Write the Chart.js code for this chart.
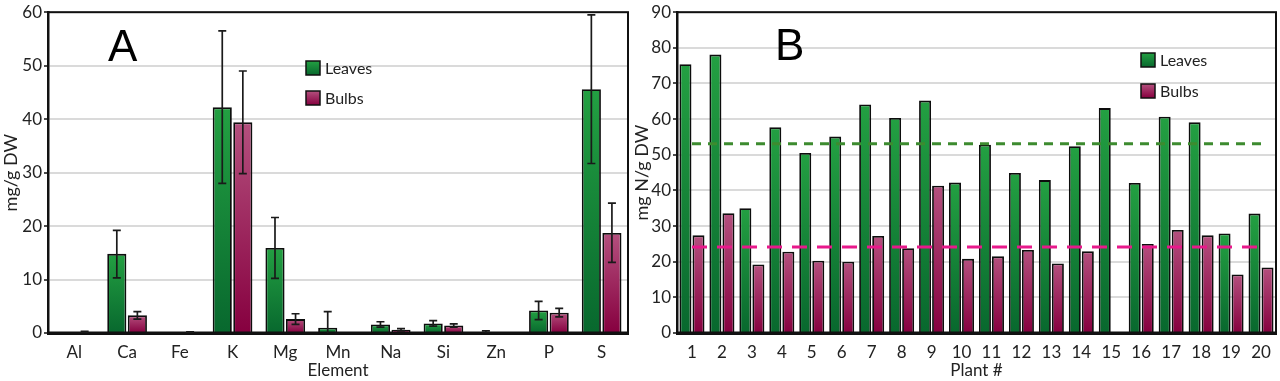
<!DOCTYPE html>
<html>
<head>
<meta charset="utf-8">
<script src="https://cdn.jsdelivr.net/npm/chart.js@4/dist/chart.umd.min.js"></script>
<style>
  html,body{margin:0;padding:0;background:#fff;width:1280px;height:381px;overflow:hidden;}
  .pane{position:absolute;top:0;height:381px;}
</style>
</head>
<body>
<div class="pane" style="left:0;width:640px"><canvas id="ca" width="640" height="381"></canvas></div>
<div class="pane" style="left:628px;width:652px"><canvas id="cb" width="652" height="381"></canvas></div>
<script>
// ---------- Panel A data ----------
const elements = ['Al','Ca','Fe','K','Mg','Mn','Na','Si','Zn','P','S'];
const leavesA     = [0.05, 14.8, 0.05, 42.2, 15.9, 1.0, 1.6, 1.8, 0.1, 4.2, 45.6];
const leavesALow  = [0.05, 10.3, 0.05, 28.0, 10.2, -2.0, 1.1, 1.3, 0.0, 2.5, 31.7];
const leavesAHigh = [0.05, 19.2, 0.05, 56.5, 21.6, 4.0, 2.1, 2.3, 0.4, 5.9, 59.5];
const bulbsA      = [0.2, 3.3, 0.15, 39.4, 2.6, 0.05, 0.6, 1.4, 0.05, 3.8, 18.7];
const bulbsALow   = [0.1, 2.6, 0.1, 29.8, 1.6, 0.05, 0.4, 1.1, 0.05, 3.0, 13.2];
const bulbsAHigh  = [0.3, 4.0, 0.2, 49.0, 3.6, 0.05, 0.8, 1.7, 0.05, 4.6, 24.3];
const yTicksA = [0,10,20,30,40,50,60];

// ---------- Panel B data ----------
const plants = ['1','2','3','4','5','6','7','8','9','10','11','12','13','14','15','16','17','18','19','20'];
const leavesB = [75.4, 78.1, 35.0, 57.7, 50.5, 55.1, 64.1, 60.3, 65.2, 42.2, 52.8, 44.9, 42.9, 52.4, 63.1, 42.1, 60.7, 59.1, 27.9, 33.5];
const bulbsB  = [27.4, 33.6, 19.2, 22.8, 20.3, 20.0, 27.2, 23.8, 41.3, 20.8, 21.5, 23.3, 19.5, 22.9, 0, 25.0, 28.9, 27.4, 16.4, 18.4];
const meanLeavesB = 53.1;
const meanBulbsB = 24.1;
const yTicksB = [0,10,20,30,40,50,60,70,80,90];

const FONT = 'Lato, "Open Sans", sans-serif';
const FS = 17;
const TXT = '#222';
const GREEN_TOP = '#23a042', GREEN_BOT = '#08682e';
const PINK_TOP = '#b4507e', PINK_BOT = '#86003f';

function barGrad(top, bot){
  return function(ctx){
    const chart = ctx.chart;
    if (!chart.chartArea || ctx.type !== 'data') return bot;
    const ys = chart.scales.y;
    const v = ctx.raw;
    const y0 = ys.getPixelForValue(v), y1 = ys.getPixelForValue(0);
    if (!(y1 - y0 > 1)) return bot;
    const g = chart.ctx.createLinearGradient(0, y0, 0, y1);
    g.addColorStop(0, top); g.addColorStop(1, bot);
    return g;
  };
}

const framePlugin = {
  id: 'frame',
  afterDatasetsDraw(chart){
    const {ctx, chartArea:a} = chart;
    ctx.save();
    ctx.strokeStyle = '#111';
    ctx.lineWidth = 2;
    ctx.strokeRect(a.left, a.top, a.right - a.left, a.bottom - a.top);
    ctx.lineWidth = 3;
    ctx.beginPath(); ctx.moveTo(a.left-1, a.bottom); ctx.lineTo(a.right+1, a.bottom); ctx.stroke();
    ctx.restore();
  }
};

const errorPlugin = {
  id: 'errbars',
  afterDatasetsDraw(chart){
    const {ctx, chartArea:a} = chart;
    const ys = chart.scales.y;
    ctx.save();
    ctx.beginPath(); ctx.rect(a.left, a.top - 2, a.right - a.left, a.bottom - a.top + 2); ctx.clip();
    ctx.strokeStyle = '#1a1a1a';
    ctx.lineWidth = 1.7;
    chart.data.datasets.forEach((ds, di) => {
      if (!ds.errLow) return;
      const meta = chart.getDatasetMeta(di);
      meta.data.forEach((bar, i) => {
        const lo = ds.errLow[i], hi = ds.errHigh[i];
        if (hi - lo <= 0) return;
        const x = bar.x;
        const yl = ys.getPixelForValue(lo), yh = ys.getPixelForValue(hi);
        ctx.beginPath();
        ctx.moveTo(x, yl); ctx.lineTo(x, yh);
        ctx.moveTo(x - 4, yh); ctx.lineTo(x + 4, yh);
        if (lo >= 0) { ctx.moveTo(x - 4, yl); ctx.lineTo(x + 4, yl); }
        ctx.stroke();
      });
    });
    ctx.restore();
  }
};

const legendLabelPlugin = {
  id: 'legendLabel',
  afterDraw(chart, args, opts){
    const ctx = chart.ctx;
    ctx.save();
    ctx.fillStyle = '#000';
    ctx.font = '44px "Liberation Sans", Arial, sans-serif';
    ctx.textBaseline = 'alphabetic';
    ctx.textAlign = 'left';
    ctx.fillText(opts.letter, opts.letterX, opts.letterY);
    const bars = chart.data.datasets.filter(d => d.type !== 'line');
    bars.forEach((ds, k) => {
      const cy = opts.legY[k];
      const x = opts.legX;
      const g = ctx.createLinearGradient(0, cy - 7, 0, cy + 7);
      g.addColorStop(0, ds.legendTop); g.addColorStop(1, ds.legendBot);
      ctx.fillStyle = g;
      ctx.fillRect(x, cy - 7, 14, 14);
      ctx.strokeStyle = '#111'; ctx.lineWidth = 1.5;
      ctx.strokeRect(x, cy - 7, 14, 14);
      ctx.fillStyle = TXT;
      ctx.font = '16px ' + FONT;
      ctx.textBaseline = 'middle';
      ctx.fillText(ds.label, x + 19, cy + 1);
    });
    ctx.restore();
  }
};

function yScale(max, ticks, title, width, titlePad){
  return {
    min: 0, max: max,
    afterBuildTicks(s){ s.ticks = ticks.map(v => ({value: v})); },
    afterFit(s){ s.width = width; },
    ticks: { font: {size: FS, family: FONT}, color: TXT, padding: 2 },
    grid: { color: '#dadada', lineWidth: 2, drawTicks: true, tickLength: 4, tickColor: '#111', tickWidth: 1.5 },
    border: { display: true, color: '#111', width: 2.5 },
    title: { display: true, text: title, font: {size: 18, family: FONT}, color: TXT, padding: titlePad }
  };
}
function xScale(title){
  return {
    afterFit(s){ s.height = 48; },
    ticks: { font: {size: FS, family: FONT}, color: TXT, padding: 9, maxRotation: 0, autoSkip: false },
    grid: { display: false, drawTicks: false },
    border: { display: true, color: '#111', width: 3 },
    title: { display: true, text: title, font: {size: FS, family: FONT}, color: TXT, padding: {top: 0, bottom: 0} }
  };
}

const BW = 1.8;
new Chart(document.getElementById('ca'), {
  type: 'bar',
  data: {
    labels: elements,
    datasets: [
      { label: 'Leaves', data: leavesA, errLow: leavesALow, errHigh: leavesAHigh,
        backgroundColor: barGrad(GREEN_TOP, GREEN_BOT), borderColor: '#0d0d0d', borderWidth: BW,
        legendTop: GREEN_TOP, legendBot: GREEN_BOT, categoryPercentage: 0.78, barPercentage: 0.93 },
      { label: 'Bulbs', data: bulbsA, errLow: bulbsALow, errHigh: bulbsAHigh,
        backgroundColor: barGrad(PINK_TOP, PINK_BOT), borderColor: '#0d0d0d', borderWidth: BW,
        legendTop: PINK_TOP, legendBot: PINK_BOT, categoryPercentage: 0.78, barPercentage: 0.93 }
    ]
  },
  options: {
    responsive: false, animation: false,
    layout: { padding: { top: 6, right: 12, left: 0, bottom: 0 } },
    scales: { x: xScale('Element'), y: yScale(60, yTicksA, 'mg/g DW', 48, {top: 0, bottom: 0}) },
    plugins: {
      legend: { display: false }, tooltip: { enabled: false },
      legendLabel: { letter: 'A', letterX: 108, letterY: 61, legX: 306, legY: [68, 98] }
    }
  },
  plugins: [framePlugin, errorPlugin, legendLabelPlugin]
});

new Chart(document.getElementById('cb'), {
  type: 'bar',
  data: {
    labels: plants,
    datasets: [
      { type: 'line', label: 'meanLeaves', data: [{x: plants[0], y: meanLeavesB}, {x: plants[plants.length-1], y: meanLeavesB}],
        borderColor: '#3d8b2f', borderWidth: 3, borderDash: [9, 7], pointRadius: 0, fill: false, order: 0 },
      { type: 'line', label: 'meanBulbs', data: [{x: plants[0], y: meanBulbsB}, {x: plants[plants.length-1], y: meanBulbsB}],
        borderColor: '#e8198b', borderWidth: 3, borderDash: [15, 10], pointRadius: 0, fill: false, order: 0 },
      { label: 'Leaves', data: leavesB,
        backgroundColor: barGrad(GREEN_TOP, GREEN_BOT), borderColor: '#0d0d0d', borderWidth: BW,
        legendTop: GREEN_TOP, legendBot: GREEN_BOT, categoryPercentage: 0.87, barPercentage: 0.92, order: 1 },
      { label: 'Bulbs', data: bulbsB,
        backgroundColor: barGrad(PINK_TOP, PINK_BOT), borderColor: '#0d0d0d', borderWidth: BW,
        legendTop: PINK_TOP, legendBot: PINK_BOT, categoryPercentage: 0.87, barPercentage: 0.92, order: 1 }
    ]
  },
  options: {
    responsive: false, animation: false,
    layout: { padding: { top: 7, right: 4, left: 3, bottom: 0 } },
    scales: { x: xScale('Plant #'), y: yScale(90, yTicksB, 'mg N/g DW', 46, {top: 0, bottom: 0}) },
    plugins: {
      legend: { display: false }, tooltip: { enabled: false },
      legendLabel: { letter: 'B', letterX: 775 - 628, letterY: 60, legX: 1141 - 628, legY: [60, 91] }
    }
  },
  plugins: [framePlugin, legendLabelPlugin]
});
</script>
</body>
</html>
